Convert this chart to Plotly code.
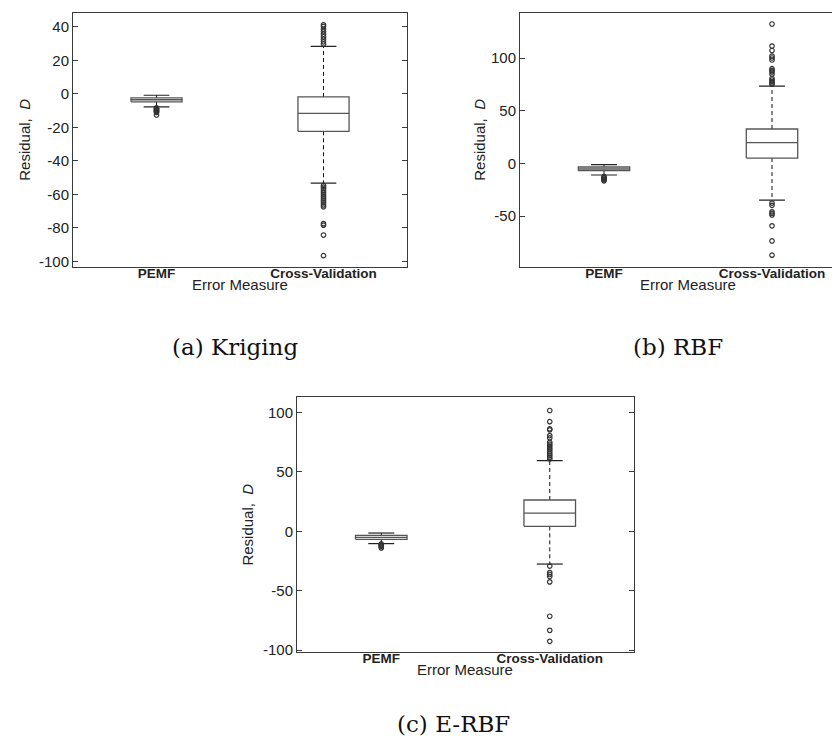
import plotly.graph_objects as go

W, H = 840, 744

categories = ["PEMF", "Cross-Validation"]
cat_pos = [1, 2]

# ---- Panel (a) Kriging ----
a_q1 = [-4.7, -22.3]
a_med = [-3.5, -11.6]
a_q3 = [-2.4, -1.8]
a_lo = [-7.7, -53.2]
a_hi = [-0.8, 28.4]
a_out_pemf = [-8.3, -8.7, -9.1, -9.5, -9.9, -10.3, -10.7, -11.1, -12.6]
a_out_cv = [41.2, 40.2, 38.6, 37.1, 35.6, 34.1, 32.6, 31.1, 29.8,
            -54.6, -55.6, -56.6, -57.8, -59.0, -60.2, -61.4, -62.6, -63.8,
            -65.0, -66.2, -67.3, -77.4, -78.3, -84.2, -96.5]

# ---- Panel (b) RBF ----
b_q1 = [-6.9, 5.1]
b_med = [-5.3, 19.8]
b_q3 = [-3.4, 32.7]
b_lo = [-11.0, -34.8]
b_hi = [-1.2, 73.5]
b_out_pemf = [-12.5, -13.3, -14.1, -14.9, -15.7, -16.5]
b_out_cv = [132.5, 111.5, 107.3, 102.0, 100.2, 98.3, 90.0, 88.5, 87.0, 84.8,
            80.7, 79.3, 77.8, 76.4, 75.3,
            -37.7, -39.8, -46.0, -47.5, -49.0, -59.3, -73.7, -87.2]

# ---- Panel (c) E-RBF ----
c_q1 = [-6.7, 4.2]
c_med = [-5.0, 15.3]
c_q3 = [-3.3, 26.4]
c_lo = [-10.3, -27.5]
c_hi = [-1.4, 59.5]
c_out_pemf = [-10.6, -11.3, -12.0, -12.7, -13.9]
c_out_cv = [101.7, 92.3, 86.2, 85.4, 80.6, 78.6, 75.0, 73.4, 71.8, 70.2,
            68.6, 67.0, 65.4, 63.8, 62.2, 60.8,
            -29.2, -34.7, -36.3, -38.0, -42.5, -71.4, -83.3, -92.5]

ticks_a = [-100, -80, -60, -40, -20, 0, 20, 40]
ticks_b = [-50, 0, 50, 100]
ticks_c = [-100, -50, 0, 50, 100]

panels = [
    dict(q1=a_q1, med=a_med, q3=a_q3, lo=a_lo, hi=a_hi,
         outs=[a_out_pemf, a_out_cv], px=(65, 399), py=(5, 261),
         xr=[0.5, 2.5], yr=[-103, 48.3], ticks=ticks_a, mirror=True,
         caption="(a) Kriging", cap_xy=(227, 342), ytitle_x=17),
    dict(q1=b_q1, med=b_med, q3=b_q3, lo=b_lo, hi=b_hi,
         outs=[b_out_pemf, b_out_cv], px=(512, 840), py=(5, 261),
         xr=[0.5, 0.5 + 328 / 168], yr=[-98, 143], ticks=ticks_b, mirror=False,
         caption="(b) RBF", cap_xy=(670, 342), ytitle_x=472),
    dict(q1=c_q1, med=c_med, q3=c_q3, lo=c_lo, hi=c_hi,
         outs=[c_out_pemf, c_out_cv], px=(289, 626), py=(393, 650),
         xr=[0.5, 2.5], yr=[-101.4, 112.8], ticks=ticks_c, mirror=True,
         caption="(c) E-RBF", cap_xy=(445, 723), ytitle_x=240),
]

BOXW = 0.153
CAPW = 0.077
FRAME = "#3a3a3a"
BOXC = "#555555"
TXT = "#222222"
SANS = "Liberation Sans, Arial, Helvetica, sans-serif"

fig = go.Figure()
annotations = []

for i, p in enumerate(panels):
    sfx = "" if i == 0 else str(i + 1)
    xa, ya = "x" + sfx, "y" + sfx
    for j, c in enumerate(cat_pos):
        q1, md, q3, lo, hi = p["q1"][j], p["med"][j], p["q3"][j], p["lo"][j], p["hi"][j]
        # whiskers (dashed)
        fig.add_trace(go.Scatter(x=[c, c, None, c, c], y=[q3, hi, None, q1, lo],
                                 mode="lines", line=dict(color="#111111", width=1, dash="4px,3px"),
                                 xaxis=xa, yaxis=ya, showlegend=False, hoverinfo="skip"))
        # caps
        fig.add_trace(go.Scatter(x=[c - CAPW, c + CAPW, None, c - CAPW, c + CAPW],
                                 y=[hi, hi, None, lo, lo],
                                 mode="lines", line=dict(color="#222222", width=1.2),
                                 xaxis=xa, yaxis=ya, showlegend=False, hoverinfo="skip"))
        # box
        fig.add_trace(go.Scatter(x=[c - BOXW, c + BOXW, c + BOXW, c - BOXW, c - BOXW],
                                 y=[q1, q1, q3, q3, q1],
                                 mode="lines", line=dict(color=BOXC, width=1.3),
                                 fill="toself", fillcolor="white",
                                 xaxis=xa, yaxis=ya, showlegend=False, hoverinfo="skip"))
        # median
        fig.add_trace(go.Scatter(x=[c - BOXW, c + BOXW], y=[md, md],
                                 mode="lines", line=dict(color=BOXC, width=1.3),
                                 xaxis=xa, yaxis=ya, showlegend=False, hoverinfo="skip"))
        # outliers
        outs = p["outs"][j]
        fig.add_trace(go.Scatter(x=[c] * len(outs), y=outs, mode="markers",
                                 marker=dict(symbol="circle-open", size=4.5, color="#333333",
                                             line=dict(color="#333333", width=1.2)),
                                 xaxis=xa, yaxis=ya, showlegend=False, hoverinfo="skip"))

    x0, x1 = p["px"]
    y0, y1 = p["py"]
    dom_x = [x0 / W, x1 / W]
    dom_y = [1 - y1 / H, 1 - y0 / H]
    xkey = "xaxis" + sfx
    ykey = "yaxis" + sfx
    fig.update_layout(**{
        xkey: dict(domain=dom_x, range=p["xr"], anchor=ya,
                   tickvals=cat_pos, ticktext=["<b>%s</b>" % t for t in categories],
                   ticks="", showgrid=False, zeroline=False, ticklabelstandoff=-6,
                   showline=True, linecolor=FRAME, linewidth=1, mirror=True,
                   tickfont=dict(family=SANS, size=13.5, color=TXT)),
        ykey: dict(domain=dom_y, range=p["yr"], anchor=xa,
                   tickvals=p["ticks"], ticktext=[str(v) for v in p["ticks"]],
                   ticks="inside", ticklen=5, tickcolor=FRAME,
                   showgrid=False, zeroline=False,
                   showline=True, linecolor=FRAME, linewidth=1,
                   mirror="ticks" if p["mirror"] else False,
                   tickfont=dict(family=SANS, size=15, color=TXT)),
    })
    full_right = x0 + (2.5 - p["xr"][0]) / (p["xr"][1] - p["xr"][0]) * (x1 - x0)
    xc = (x0 + full_right) / 2
    annotations.append(dict(text="Error Measure", x=xc / W, y=1 - (y1 + 18) / H,
                            xref="paper", yref="paper", showarrow=False,
                            xanchor="center", yanchor="middle",
                            font=dict(family=SANS, size=15, color=TXT)))
    annotations.append(dict(text="Residual,\u00a0 <i>D</i>", x=p["ytitle_x"] / W,
                            y=1 - ((y0 + y1) / 2) / H, xref="paper", yref="paper",
                            showarrow=False, textangle=-90, xanchor="center", yanchor="middle",
                            font=dict(family=SANS, size=15, color=TXT)))
    annotations.append(dict(text=p["caption"], x=p["cap_xy"][0] / W, y=1 - p["cap_xy"][1] / H,
                            xref="paper", yref="paper", showarrow=False,
                            xanchor="center", yanchor="middle",
                            font=dict(family="DejaVu Serif, serif", size=23, color="#111111")))

fig.update_layout(width=W, height=H, margin=dict(l=0, r=0, t=0, b=0),
                  paper_bgcolor="white", plot_bgcolor="white",
                  annotations=annotations, showlegend=False)

fig.write_html("out.html")
